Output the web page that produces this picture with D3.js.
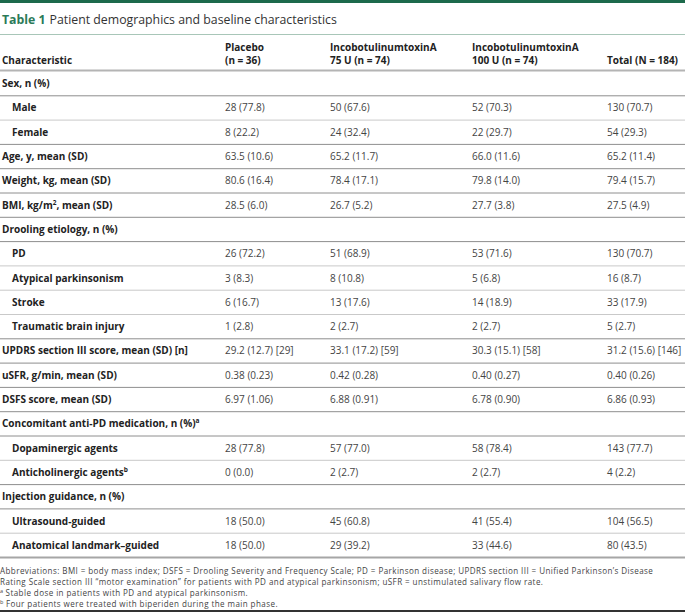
<!DOCTYPE html>
<html lang="en">
<head>
<meta charset="UTF-8">
<title>Table 1</title>
<script src="https://cdn.jsdelivr.net/npm/d3@7"></script>
<style>
    body{ margin:0; background:#fff; }
    #wrap{ position:relative; width:685px; height:612px; }
    svg text{ font-family:"Open Sans", sans-serif; }
    #notes{ position:absolute; left:0; width:685px; font-family:"Open Sans", sans-serif;
        font-size:8.05px; letter-spacing:0.42px; line-height:11px; color:#444; white-space:nowrap; }
    #notes div{ height:11px; }
    #notes sup{ font-size:5.5px; vertical-align:baseline; position:relative; top:-3px; letter-spacing:0; }
</style>
</head>
<body>
<div id="wrap">
<svg id="tbl" width="685" height="612"></svg>
<div id="notes"></div>
</div>
<script>
    // row labels ({x} = superscript), indent = sub row
    let labels = ["Sex, n (%)", "Male", "Female", "Age, y, mean (SD)", "Weight, kg, mean (SD)",
        "BMI, kg/m{2}, mean (SD)", "Drooling etiology, n (%)", "PD", "Atypical parkinsonism", "Stroke",
        "Traumatic brain injury", "UPDRS section III score, mean (SD) [n]", "uSFR, g/min, mean (SD)",
        "DSFS score, mean (SD)", "Concomitant anti-PD medication, n (%){a}", "Dopaminergic agents",
        "Anticholinergic agents{b}", "Injection guidance, n (%)", "Ultrasound-guided", "Anatomical landmark–guided"]
    let indent = [0,1,1,0,0,0,0,1,1,1,1,0,0,0,0,1,1,0,1,1]

    let placebo = ["", "28 (77.8)", "8 (22.2)", "63.5 (10.6)", "80.6 (16.4)", "28.5 (6.0)", "", "26 (72.2)",
        "3 (8.3)", "6 (16.7)", "1 (2.8)", "29.2 (12.7) [29]", "0.38 (0.23)", "6.97 (1.06)", "", "28 (77.8)",
        "0 (0.0)", "", "18 (50.0)", "18 (50.0)"]
    let dose75 = ["", "50 (67.6)", "24 (32.4)", "65.2 (11.7)", "78.4 (17.1)", "26.7 (5.2)", "", "51 (68.9)",
        "8 (10.8)", "13 (17.6)", "2 (2.7)", "33.1 (17.2) [59]", "0.42 (0.28)", "6.88 (0.91)", "", "57 (77.0)",
        "2 (2.7)", "", "45 (60.8)", "29 (39.2)"]
    let dose100 = ["", "52 (70.3)", "22 (29.7)", "66.0 (11.6)", "79.8 (14.0)", "27.7 (3.8)", "", "53 (71.6)",
        "5 (6.8)", "14 (18.9)", "2 (2.7)", "30.3 (15.1) [58]", "0.40 (0.27)", "6.78 (0.90)", "", "58 (78.4)",
        "2 (2.7)", "", "41 (55.4)", "33 (44.6)"]
    let total = ["", "130 (70.7)", "54 (29.3)", "65.2 (11.4)", "79.4 (15.7)", "27.5 (4.9)", "", "130 (70.7)",
        "16 (8.7)", "33 (17.9)", "5 (2.7)", "31.2 (15.6) [146]", "0.40 (0.26)", "6.86 (0.93)", "", "143 (77.7)",
        "4 (2.2)", "", "104 (56.5)", "80 (43.5)"]

    let colKeys = ["label", "placebo", "dose75", "dose100", "total"]
    let headers = [["", "Characteristic"], ["Placebo", "(n = 36)"], ["IncobotulinumtoxinA", "75 U (n = 74)"],
        ["IncobotulinumtoxinA", "100 U (n = 74)"], ["", "Total (N = 184)"]]

    let titleNum = "Table 1"
    let titleText = "Patient demographics and baseline characteristics"
    let footnotes = [
        "Abbreviations: BMI = body mass index; DSFS = Drooling Severity and Frequency Scale; PD = Parkinson disease; UPDRS section III = Unified Parkinson’s Disease",
        "Rating Scale section III “motor examination” for patients with PD and atypical parkinsonism; uSFR = unstimulated salivary flow rate.",
        "{a} Stable dose in patients with PD and atypical parkinsonism.",
        "{b} Four patients were treated with biperiden during the main phase."]

    let svg = d3.select("#tbl")
    let cols = {placebo: placebo, dose75: dose75, dose100: dose100, total: total}

    let x = d3.scaleOrdinal().domain(colKeys).range([2, 225, 330, 472, 607])
    let y = d3.scaleBand().domain(d3.range(labels.length)).range([71.5, 557.5])

    // put text with {sup} parts into a text element
    function rich(sel, str, supSize){
        str.split(/(\{[^}]*\})/).filter(s => s !== "").forEach(part => {
            if (part[0] === "{") {
                sel.append("tspan").attr("font-size", supSize).attr("baseline-shift", "super")
                    .text(part.slice(1, -1))
            } else {
                sel.append("tspan").text(part)
            }
        })
    }

    // top bar + title
    svg.append("rect").attr("x", 0).attr("y", 0).attr("width", 685).attr("height", 3).attr("fill", "#1d6a4c")
    let title = svg.append("text").attr("x", 2).attr("y", 23.5).attr("font-size", 12.3)
    title.append("tspan").attr("font-weight", 700).attr("fill", "#2b7a58").text(titleNum)
    title.append("tspan").attr("fill", "#333").attr("dx", 4).text(titleText)
    svg.append("line").attr("x1", 0).attr("x2", 685).attr("y1", 34.5).attr("y2", 34.5)
        .attr("stroke", "#a8c6b8").attr("stroke-width", 1)

    // header
    colKeys.forEach((k, i) => {
        headers[i].forEach((h, j) => {
            svg.append("text").attr("x", x(k)).attr("y", 51 + j * 12.5)
                .attr("font-size", 10).attr("font-weight", 700).attr("fill", "#222").text(h)
        })
    })
    svg.append("line").attr("x1", 0).attr("x2", 685).attr("y1", y(0) - 1).attr("y2", y(0) - 1)
        .attr("stroke", "#b4b4b4").attr("stroke-width", 2)

    // row separators
    labels.forEach((l, i) => {
        if (i === labels.length - 1) return
        let light = indent[i] && indent[i + 1]
        let yy = y(i) + y.bandwidth()
        svg.append("line").attr("x1", 0).attr("x2", 685).attr("y1", yy).attr("y2", yy)
            .attr("stroke", light ? "#c9c9c9" : "#8e8e8e").attr("stroke-width", 1)
    })
    let yEnd = y(labels.length - 1) + y.bandwidth()
    svg.append("line").attr("x1", 0).attr("x2", 685).attr("y1", yEnd).attr("y2", yEnd)
        .attr("stroke", "#a6a6a6").attr("stroke-width", 2)

    // cells
    labels.forEach((l, i) => {
        let ty = y(i) + y.bandwidth() / 2 + 3.5
        let t = svg.append("text").attr("x", x("label") + (indent[i] ? 10 : 0)).attr("y", ty)
            .attr("font-size", 10).attr("font-weight", 700).attr("fill", "#222")
        rich(t, l, 6.5)
        colKeys.slice(1).forEach(k => {
            svg.append("text").attr("x", x(k)).attr("y", ty)
                .attr("font-size", 10).attr("fill", "#444").text(cols[k][i])
        })
    })

    // footnotes (html lines, 11px apart)
    let notes = d3.select("#notes").style("top", (yEnd + 7.5) + "px")
    footnotes.forEach(f => {
        let line = notes.append("div")
        f.split(/(\{[^}]*\})/).filter(s => s !== "").forEach(part => {
            if (part[0] === "{") line.append("sup").text(part.slice(1, -1))
            else line.append("span").text(part)
        })
    })
    svg.append("line").attr("x1", 0).attr("x2", 685).attr("y1", 611).attr("y2", 611)
        .attr("stroke", "#333").attr("stroke-width", 2)
</script>
</body>
</html>
